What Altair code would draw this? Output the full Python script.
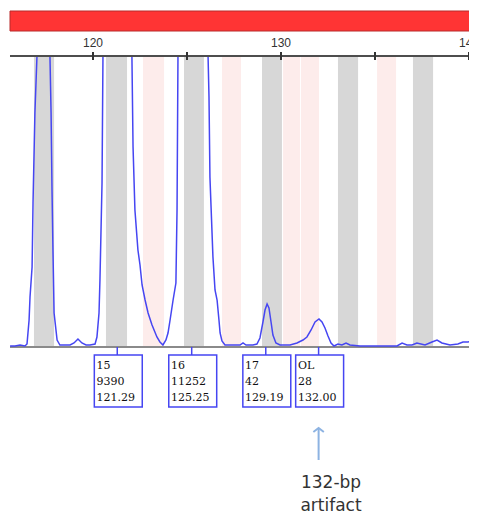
import altair as alt
import pandas as pd

# ---------------- data ----------------
tick_values = [120, 125, 130, 135, 140]
tick_labels = [120, 130, 140]

bin_start = [116.86, 120.69, 122.66, 124.84, 126.86, 128.99, 130.11, 131.06, 133.03, 135.11, 137.02]
bin_end   = [117.93, 121.81, 123.78, 125.90, 127.87, 130.05, 131.01, 132.02, 134.10, 136.12, 138.09]
bin_kind  = ["gray", "gray", "pink", "gray", "pink", "gray", "pink", "pink", "gray", "pink", "gray"]

trace_bp = [115.59, 115.85, 116.12, 116.38, 116.49, 116.60, 116.65, 116.76, 116.81, 116.91,
            117.02, 117.34, 117.71, 117.77, 117.82, 117.87, 117.93, 118.09, 118.24, 118.51,
            118.78, 118.99, 119.20, 119.41, 119.63, 119.84, 120.11, 120.21, 120.32, 120.37,
            120.48, 120.53, 121.28, 122.07, 122.13, 122.23, 122.39, 122.50, 122.61, 122.77,
            122.93, 123.14, 123.40, 123.56, 123.72, 123.88, 123.99, 124.10, 124.26, 124.41,
            124.47, 124.52, 125.27, 126.12, 126.17, 126.22, 126.28, 126.38, 126.49, 126.60,
            126.70, 126.76, 126.86, 127.02, 127.29, 127.55, 127.82, 127.98, 128.14, 128.35,
            128.51, 128.72, 128.88, 129.04, 129.15, 129.26, 129.36, 129.47, 129.57, 129.73,
            129.95, 130.21, 130.48, 130.85, 131.17, 131.38, 131.60, 131.81, 132.02, 132.18,
            132.34, 132.50, 132.66, 132.82, 133.03, 133.24, 133.46, 133.67, 134.20, 134.73,
            135.27, 135.80, 136.17, 136.44, 136.70, 136.97, 137.23, 137.66, 138.03, 138.30,
            138.56, 138.99, 139.41, 139.68, 139.95, 140.16, 140.43]
trace_rfu = [1, 1, 2, 1, 3, 27, 50, 80, 144, 234,
             320, 8000, 320, 234, 157, 97, 34, 7, 2, 2,
             2, 4, 8, 4, 2, 2, 3, 10, 34, 67,
             164, 320, 9390, 320, 200, 137, 97, 82, 62, 47,
             34, 22, 10, 5, 2, 7, 14, 27, 47, 64,
             137, 320, 11252, 320, 250, 170, 140, 90, 57, 47,
             27, 14, 6, 2, 2, 2, 2, 4, 2, 2,
             2, 3, 9, 25, 37, 43, 39, 25, 12, 4,
             2, 2, 2, 4, 7, 10, 17, 25, 28, 25,
             19, 11, 4, 1, 3, 2, 4, 2, 1, 1,
             1, 1, 1, 4, 2, 2, 4, 2, 5, 7,
             4, 2, 3, 5, 5, 6, 7]

peak_allele = ["15", "16", "17", "OL"]
peak_height = ["9390", "11252", "42", "28"]
peak_size   = ["121.29", "125.25", "129.19", "132.00"]
peak_bp     = [121.29, 125.25, 129.19, 132.00]

note_lines = ["132-bp", "artifact"]
note_bp = 132.0

# ---------------- chart ----------------
W, H = 461, 506
PX_PER_BP = 18.8
X0 = 115.4787
XS = alt.Scale(domain=[X0, X0 + W / PX_PER_BP], nice=False, zero=False)
YS = alt.Scale(domain=[339 - H, 339], nice=False, zero=False)
BLUE = "#4646f2"
XEND = 140.6


def X(f):
    return alt.X(f, type="quantitative", scale=XS, axis=None)


def Y(f):
    return alt.Y(f, type="quantitative", scale=YS, axis=None)


bins_df = pd.DataFrame({"start": bin_start, "end": bin_end, "kind": bin_kind})
trace_df = pd.DataFrame({"bp": trace_bp, "rfu": trace_rfu})
peaks_df = pd.DataFrame({"allele": peak_allele, "height": peak_height,
                         "size": peak_size, "bp": peak_bp})
ticks_df = pd.DataFrame({"t": tick_values})
labels_df = pd.DataFrame({"t": tick_labels, "lab": [str(v) for v in tick_labels]})
frame_df = pd.DataFrame({"x0": [115.585], "x1": [XEND]})
note_df = pd.DataFrame({"txt": note_lines, "row": [0, 1]})
one = pd.DataFrame({"a": [0]})

red_bar = alt.Chart(one).mark_rect(fill="#ff3434", stroke="#b82b2b", strokeWidth=1).encode(
    x=alt.value(2), x2=alt.value(W + 4), y=alt.value(3), y2=alt.value(23))

bins = alt.Chart(bins_df).transform_calculate(top="291", bottom="0").mark_rect().encode(
    x=X("start"), x2="end", y=Y("top"), y2="bottom",
    color=alt.Color("kind:N", scale=alt.Scale(domain=["gray", "pink"],
                                              range=["#d7d7d7", "#fdeceb"]), legend=None))

baseline = alt.Chart(frame_df).transform_calculate(y="0").mark_rule(
    color="#8a8a8a", strokeWidth=2).encode(x=X("x0"), x2="x1", y=Y("y"))

trace = alt.Chart(trace_df).transform_calculate(rfu_c="min(datum.rfu, 291)").mark_line(
    color=BLUE, strokeWidth=1.5).encode(x=X("bp"), y=Y("rfu_c"), order="bp:Q")

axis_line = alt.Chart(frame_df).transform_calculate(y="291").mark_rule(
    color="#4d4d4d", strokeWidth=2).encode(x=X("x0"), x2="x1", y=Y("y"))

ticks = alt.Chart(ticks_df).transform_calculate(y0="287", y1="295").mark_rule(
    color="#333333", strokeWidth=2).encode(x=X("t"), y=Y("y0"), y2="y1")

tick_text = alt.Chart(labels_df).transform_calculate(y="297").mark_text(
    font="Liberation Sans", fontSize=12, color="#333333", baseline="bottom", align="center").encode(
    x=X("t"), y=Y("y"), text="lab:N")

connectors = alt.Chart(peaks_df).transform_calculate(y0="0", y1="-8").mark_rule(
    color=BLUE, strokeWidth=1.5).encode(x=X("bp"), y=Y("y0"), y2="y1")

boxes = alt.Chart(peaks_df).transform_calculate(
    left="datum.bp - 1.22", right="datum.bp + 1.33", top="-8", bot="-60").mark_rect(
    fill="white", stroke=BLUE, strokeWidth=1.5).encode(x=X("left"), x2="right", y=Y("top"), y2="bot")


def box_text(field, yv):
    return alt.Chart(peaks_df).transform_calculate(
        tx="datum.bp - 1.10", ty=str(yv)).mark_text(
        font="DejaVu Serif", fontSize=11, color="#111111", align="left", baseline="middle").encode(
        x=X("tx"), y=Y("ty"), text=f"{field}:N")


t1 = box_text("allele", -19)
t2 = box_text("height", -35)
t3 = box_text("size", -51)

arrow_df = pd.DataFrame({"bp": [note_bp], "y0": [-81], "y1": [-113]})
arrow_shaft = alt.Chart(arrow_df).mark_rule(color="#8db3e2", strokeWidth=2).encode(
    x=X("bp"), y=Y("y0"), y2="y1")
arrow_head = alt.Chart(arrow_df).mark_point(
    shape="M-1,0.75L0,0L1,0.75", filled=False, color="#8db3e2", strokeWidth=2,
    size=110, opacity=1).encode(x=X("bp"), y=Y("y0"))

note = alt.Chart(note_df).transform_calculate(
    tx=str(note_bp + 0.66), ty="-136 - datum.row * 23").mark_text(
    font="DejaVu Sans", fontSize=17, color="#333333", align="center", baseline="middle").encode(
    x=X("tx"), y=Y("ty"), text="txt:N")

chart = alt.layer(
    red_bar, bins, baseline, trace, axis_line, ticks, tick_text,
    connectors, boxes, t1, t2, t3, arrow_shaft, arrow_head, note
).properties(
    width=W, height=H, padding=0, autosize=alt.AutoSizeParams(type="none"), background="white"
).configure_view(strokeWidth=0)

chart.save("out.html", embed_options={"renderer": "svg", "actions": False})
